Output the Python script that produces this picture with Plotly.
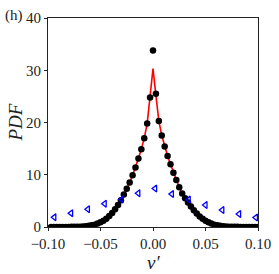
import numpy as np
import plotly.graph_objects as go

# Black dots: PDF of v' (bin centres k*0.1/36, k=-36..36)
dot_step = 0.1 / 36
dot_left = [0.003, 0.004, 0.006, 0.008, 0.01, 0.015, 0.02, 0.025, 0.035, 0.05, 0.07, 0.10, 0.15,
            0.22, 0.32, 0.45, 0.65, 0.9, 1.2, 1.6, 2.1, 2.7, 3.4, 4.2, 5.1, 6.2, 7.3, 8.5, 9.9,
            11.4, 13.1, 14.9, 17.0, 19.8, 24.8]
dot_centre = [33.8]
dot_right = [25.5, 20.3, 17.5, 15.4, 13.6, 12.0, 10.4, 9.0, 7.6, 6.4, 5.5, 4.7, 3.9, 3.2, 2.6,
             2.0, 1.6, 1.2, 0.9, 0.65, 0.45, 0.32, 0.22, 0.15, 0.10, 0.07, 0.05, 0.035, 0.025,
             0.02, 0.015, 0.01, 0.008, 0.006, 0.004, 0.003]
dot_y = dot_left + dot_centre + dot_right
n_side = len(dot_left)
dot_x = [k * dot_step for k in range(-n_side, len(dot_right) + 1)]

# Red line: fitted PDF
line_x = dot_x
line_y = dot_left[:-1] + [24.9, 30.3, 25.2] + dot_right[1:]

# Blue open triangles
tri_x = [-0.094, -0.078, -0.062, -0.046, -0.030, -0.014, 0.002, 0.018, 0.034, 0.050, 0.066, 0.082, 0.098]
tri_y = [1.85, 2.65, 3.4, 4.45, 5.25, 6.45, 7.35, 6.3, 5.25, 4.2, 3.25, 2.5, 1.8]

x_ticks = [-0.10, -0.05, 0.00, 0.05, 0.10]
y_ticks = [0, 10, 20, 30, 40]

font_family = "Liberation Serif, Times New Roman, serif"
txt_color = "#222"

fig = go.Figure()
fig.add_trace(go.Scatter(x=line_x, y=line_y, mode="lines",
                         line=dict(color="red", width=1.6), showlegend=False))
fig.add_trace(go.Scatter(x=dot_x, y=dot_y, mode="markers",
                         marker=dict(color="black", size=6.5, symbol="circle"), showlegend=False))
fig.add_trace(go.Scatter(x=tri_x, y=tri_y, mode="markers",
                         marker=dict(color="blue", size=6, symbol="triangle-left-open",
                                     line=dict(width=1.3, color="blue")), showlegend=False))

axis_common = dict(showgrid=False, zeroline=False, showline=True, linecolor=txt_color, linewidth=1,
                   mirror=True, ticks="outside", ticklen=3, tickwidth=1, tickcolor=txt_color,
                   automargin=False,
                   tickfont=dict(family=font_family, size=15, color=txt_color))

fig.update_xaxes(range=[-0.1, 0.1], tickvals=x_ticks, tickformat=".2f", **axis_common)
fig.update_yaxes(range=[0, 40], tickvals=y_ticks, **axis_common)

# Axis titles and panel label
fig.add_annotation(text="<i>v′</i>", xref="paper", yref="paper", x=0.5, y=0, yshift=-35,
                   xanchor="center", yanchor="middle", showarrow=False,
                   font=dict(family=font_family, size=19, color=txt_color))
fig.add_annotation(text="<i>PDF</i>", xref="paper", yref="paper", x=0, y=0.5, xshift=-33,
                   xanchor="center", yanchor="middle", textangle=-90, showarrow=False,
                   font=dict(family=font_family, size=19, color=txt_color))
fig.add_annotation(text="(h)", xref="paper", yref="paper", x=0, y=1, xshift=-45, yshift=3,
                   xanchor="left", yanchor="middle", showarrow=False,
                   font=dict(family=font_family, size=15, color=txt_color))

fig.update_layout(width=279, height=274, margin=dict(l=48, r=21, t=18, b=47),
                  plot_bgcolor="white", paper_bgcolor="white", hovermode=False)

fig.write_html("out.html", config={"displayModeBar": False},
               post_script="document.body.style.margin='0';")
